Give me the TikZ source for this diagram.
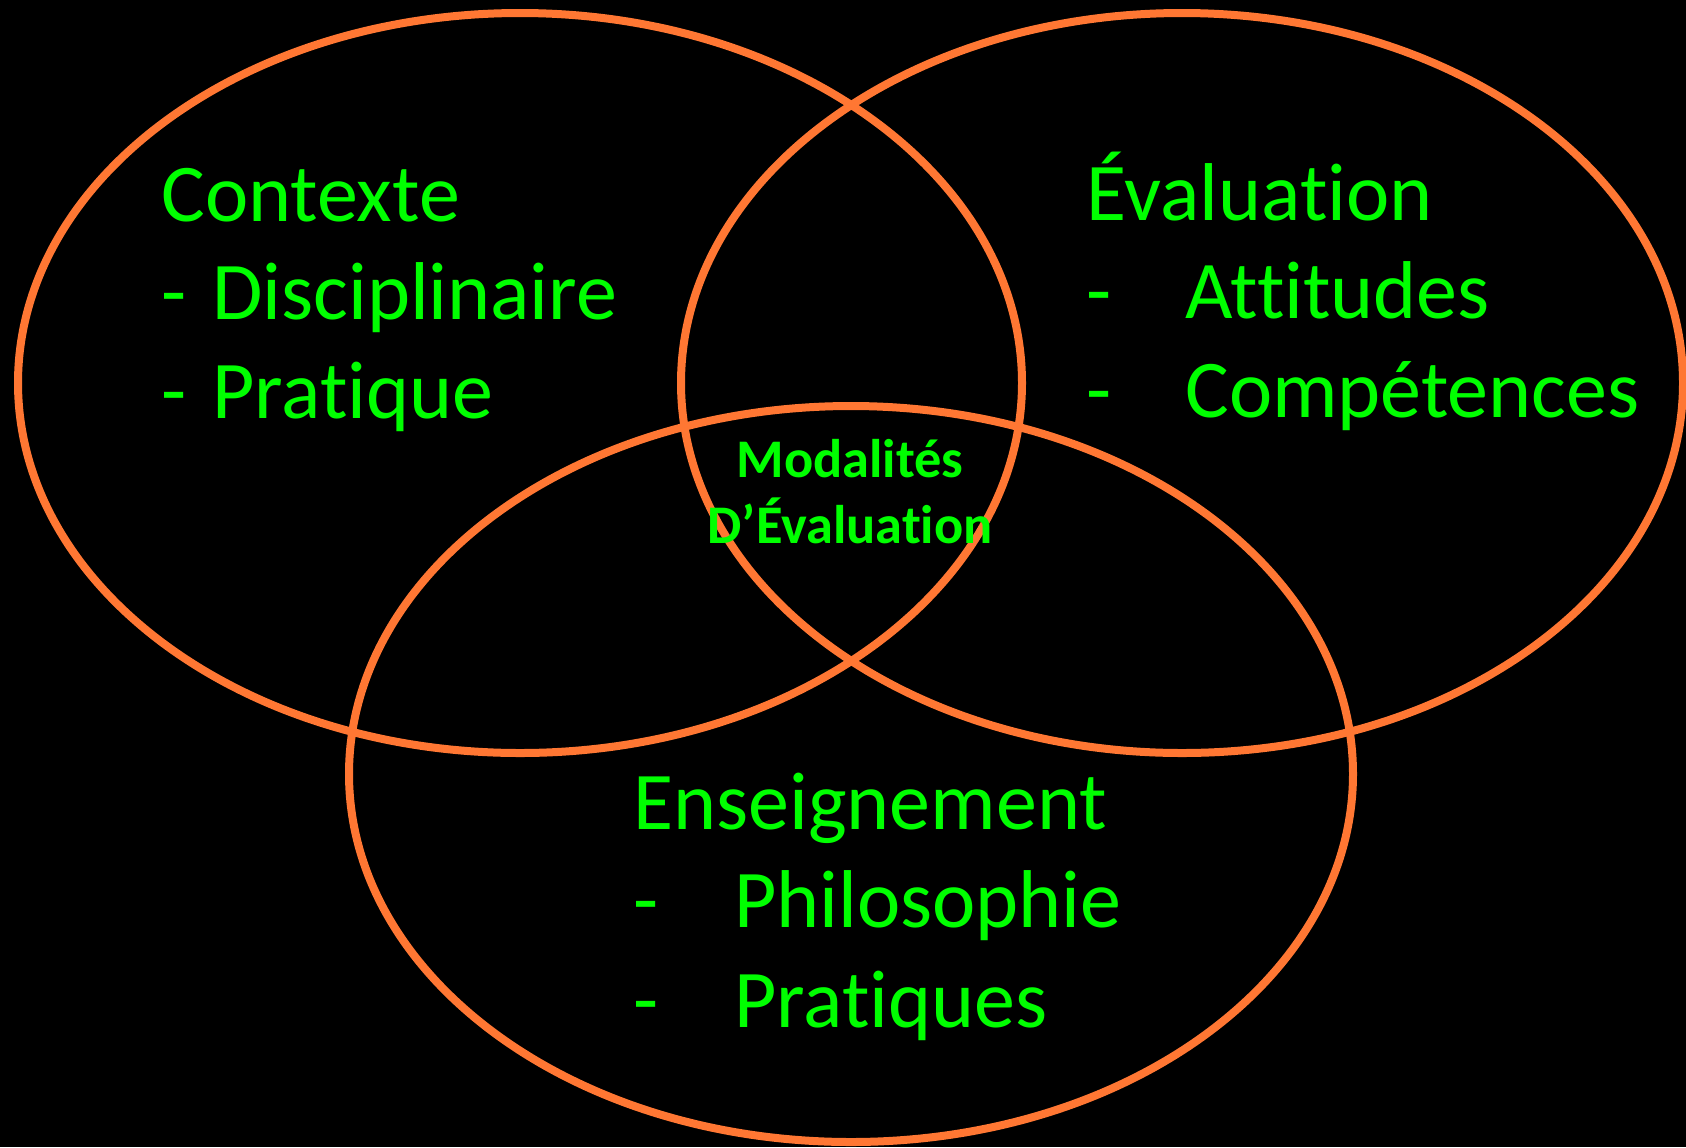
\documentclass[tikz,border=0pt]{standalone}
\usepackage{fontspec}
\setmainfont{Carlito}[Ligatures=NoCommon]

\definecolor{vennorange}{RGB}{255,119,51}
\definecolor{venngreen}{RGB}{0,255,0}

\newcommand{\venndash}[2]{\makebox[#1][l]{-}#2}

\begin{document}
\begin{tikzpicture}
    [x=0.5pt,y=-0.5pt,
     ring/.style={draw=vennorange,line width=4pt},
     settext/.style={text=venngreen,inner sep=0pt,anchor=base west,
       font=\fontsize{41}{49}\selectfont},
     midtext/.style={text=venngreen,inner sep=0pt,anchor=base,
       font=\fontsize{27.2}{32}\selectfont\bfseries}]

    % background:
    \useasboundingbox (0,0) rectangle (1686,1147);
    \fill [black] (0,0) rectangle (1686,1147);

    % the three sets:
    \draw [ring] (520,383) ellipse [x radius=502, y radius=370];
    \draw [ring] (1182,383) ellipse [x radius=501, y radius=370];
    \draw [ring] (851,774) ellipse [x radius=502, y radius=368];

    % left set:
    \node (contexte) at (161,221) [settext] {Contexte};
    \node (disc) at (161,319) [settext] {\venndash{25.5pt}{Disciplinaire}};
    \node (prat) at (161,418) [settext] {\venndash{25.5pt}{Pratique}};

    % right set:
    \node (evaluation) at (1086,220) [settext] {Évaluation};
    \node (attitudes) at (1086,318) [settext] {\venndash{49.5pt}{Attitudes}};
    \node (competences) at (1086,417) [settext] {\venndash{49.5pt}{Compétences}};

    % bottom set:
    \node (enseignement) at (633,829) [settext] {Enseignement};
    \node (philo) at (633,927) [settext] {\venndash{50.5pt}{Philosophie}};
    \node (pratiques) at (633,1027) [settext] {\venndash{50.5pt}{Pratiques}};

    % centre:
    \node (modalites) at (850,477) [midtext] {Modalités};
    \node (devaluation) at (850,543) [midtext] {D’Évaluation};

  \end{tikzpicture}
\end{document}
